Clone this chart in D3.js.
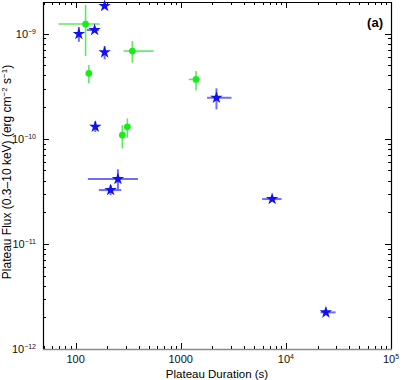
<!DOCTYPE html>
<html>
<head>
<meta charset="utf-8">
<script src="https://cdn.jsdelivr.net/npm/d3@7"></script>
<style>
  body { margin: 0; background: #fff; }
  text { font-family: "Liberation Sans", Arial, sans-serif; }
</style>
</head>
<body>
<div id="chart"></div>
<script>
// green circles: duration (s), flux, and error ranges
var greenDur   = [124.5, 346.7, 133.8, 1399, 310.8, 278.5];
var greenDurLo = [68.9, 286, 133.8, 1191, 288.4, 278.5];
var greenDurHi = [169.3, 553, 133.8, 1517, 326.6, 278.5];
var greenFlux   = [1.234e-9, 6.83e-10, 4.19e-10, 3.67e-10, 1.30e-10, 1.084e-10];
var greenFluxLo = [6.12e-10, 5.29e-10, 3.37e-10, 2.9e-10, 1.022e-10, 8.1e-11];
var greenFluxHi = [1.87e-9, 8.5e-10, 5.03e-10, 4.4e-10, 1.563e-10, 1.35e-10];

// blue stars
var blueDur   = [188.9, 107.5, 151.7, 188.9, 154, 252.8, 215.4, 2188, 7405, 24040];
var blueDurLo = [188.9, 107.5, 128.1, 188.9, 154, 130.9, 166.7, 1780, 5947, 21400];
var blueDurHi = [188.9, 107.5, 166.7, 188.9, 154, 392, 272.4, 3040, 9100, 29740];
var blueFlux   = [1.83e-9, 9.91e-10, 1.082e-9, 6.64e-10, 1.30e-10, 4.135e-11, 3.25e-11, 2.455e-10, 2.67e-11, 2.23e-12];
var blueFluxLo = [1.83e-9, 8.37e-10, 1.082e-9, 5.69e-10, 1.159e-10, 3.25e-11, 2.91e-11, 1.905e-10, 2.67e-11, 2.23e-12];
var blueFluxHi = [1.83e-9, 1.156e-9, 1.082e-9, 7.62e-10, 1.47e-10, 5.12e-11, 3.63e-11, 3.02e-10, 2.67e-11, 2.23e-12];

var xMajor = [100, 1000, 10000, 100000];
var xMajorLabels = [["100", ""], ["1000", ""], ["10", "4"], ["10", "5"]];
var yMajor = [1e-12, 1e-11, 1e-10, 1e-9];
var yMajorLabels = [["10", "\u221212"], ["10", "\u221211"], ["10", "\u221210"], ["10", "\u22129"]];

var width = 409, height = 380;
var pLeft = 43, pRight = 391, pTop = 2, pBottom = 349;

var svg = d3.select('#chart').append('svg')
    .attr('width', width)
    .attr('height', height);

var x = d3.scaleLog().domain([49, 1e5]).range([pLeft, pRight]);
var y = d3.scaleLog().domain([1e-12, 2e-9]).range([pBottom, pTop]);

// minor + major ticks for a log scale
function logTicks(scale) {
  var d = scale.domain(), out = [];
  for (var e = Math.floor(Math.log10(d[0])); e <= Math.ceil(Math.log10(d[1])); e++) {
    for (var m = 1; m <= 9; m++) {
      var v = m * Math.pow(10, e);
      if (v >= d[0] * 0.999 && v <= d[1] * 1.001) out.push([v, m == 1]);
    }
  }
  return out;
}

var ticks = svg.append('g').attr('stroke', '#000').attr('stroke-width', 1);
logTicks(x).forEach(function(t) {
  var px = Math.round(x(t[0])) + 0.5, len = t[1] ? 6 : 3;
  ticks.append('line').attr('x1', px).attr('x2', px).attr('y1', pBottom).attr('y2', pBottom - len);
  ticks.append('line').attr('x1', px).attr('x2', px).attr('y1', pTop).attr('y2', pTop + len);
});
logTicks(y).forEach(function(t) {
  var py = Math.round(y(t[0])) + 0.5, len = t[1] ? 6 : 3;
  ticks.append('line').attr('x1', pLeft).attr('x2', pLeft + len).attr('y1', py).attr('y2', py);
  ticks.append('line').attr('x1', pRight).attr('x2', pRight - len).attr('y1', py).attr('y2', py);
});

// frame
svg.append('path')
    .attr('d', `M${pLeft + 0.5},${pBottom} V${pTop + 0.5} H${pRight + 0.5} V${pBottom}`)
    .attr('fill', 'none').attr('stroke', '#000').attr('stroke-width', 1.2);
svg.append('line')
    .attr('x1', pLeft).attr('x2', pRight + 1).attr('y1', pBottom + 0.5).attr('y2', pBottom + 0.5)
    .attr('stroke', '#8a8a8a').attr('stroke-width', 1.6);

// tick labels
xMajor.forEach(function(v, i) {
  var t = svg.append('text').attr('x', x(v)).attr('y', 363)
      .attr('text-anchor', 'middle').attr('font-size', 11).attr('fill', '#111');
  t.append('tspan').text(xMajorLabels[i][0]);
  if (xMajorLabels[i][1]) t.append('tspan').attr('dy', -4).attr('font-size', 7).text(xMajorLabels[i][1]);
});
yMajor.forEach(function(v, i) {
  var t = svg.append('text').attr('x', 36).attr('y', y(v) + 4)
      .attr('text-anchor', 'end').attr('font-size', 11).attr('fill', '#111');
  t.append('tspan').text(yMajorLabels[i][0]);
  t.append('tspan').attr('dy', -4).attr('font-size', 7).text(yMajorLabels[i][1]);
});

// axis titles
svg.append('text').attr('x', 217).attr('y', 378).attr('text-anchor', 'middle')
    .attr('font-size', 11.5).text('Plateau Duration (s)');
var yt = svg.append('text').attr('transform', 'translate(11,172) rotate(-90)')
    .attr('text-anchor', 'middle').attr('font-size', 12);
yt.append('tspan').text('Plateau Flux (0.3\u201310 keV) (erg cm');
yt.append('tspan').attr('dy', -4).attr('font-size', 8).text('\u22122');
yt.append('tspan').attr('dy', 4).text(' s');
yt.append('tspan').attr('dy', -4).attr('font-size', 8).text('\u22121');
yt.append('tspan').attr('dy', 4).text(')');

svg.append('text').attr('x', 383).attr('y', 27).attr('text-anchor', 'end')
    .attr('font-size', 13).attr('font-weight', 'bold').text('(a)');

var plot = svg.append('g');

function errorBars(dur, lo, hi, flux, flo, fhi, color, w) {
  var g = plot.append('g').attr('stroke', color).attr('stroke-width', w);
  dur.forEach(function(d, i) {
    g.append('line').attr('x1', x(lo[i])).attr('x2', x(hi[i]))
        .attr('y1', y(flux[i])).attr('y2', y(flux[i]));
    g.append('line').attr('x1', x(d)).attr('x2', x(d))
        .attr('y1', y(flo[i])).attr('y2', y(fhi[i]));
  });
}

errorBars(greenDur, greenDurLo, greenDurHi, greenFlux, greenFluxLo, greenFluxHi, '#5fe85f', 1.6);
errorBars(blueDur, blueDurLo, blueDurHi, blueFlux, blueFluxLo, blueFluxHi, '#6f6ff5', 2);

plot.selectAll('circle.g')
  .data(d3.range(greenDur.length))
  .join('circle')
    .attr('cx', function(i) { return x(greenDur[i]); })
    .attr('cy', function(i) { return y(greenFlux[i]); })
    .attr('r', 3.4)
    .attr('fill', '#14f014');

plot.selectAll('path.star')
  .data(d3.range(blueDur.length))
  .join('path')
    .attr('class', 'star')
    .attr('d', d3.symbol().type(d3.symbolStar).size(48))
    .attr('transform', function(i) { return `translate(${x(blueDur[i])},${y(blueFlux[i])})`; })
    .attr('fill', '#1010f0');
</script>
</body>
</html>
